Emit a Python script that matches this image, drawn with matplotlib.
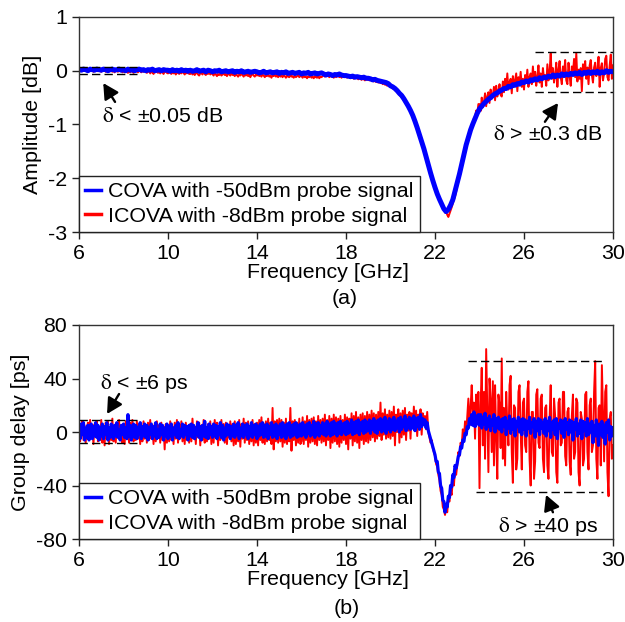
import numpy as np
import matplotlib
matplotlib.use('Agg')
import matplotlib.pyplot as plt
from matplotlib.lines import Line2D

plt.rcParams['font.family'] = ['Liberation Sans', 'DejaVu Sans']
plt.rcParams['font.size'] = 15.4
plt.rcParams['mathtext.fontset'] = 'stix'
plt.rcParams['axes.unicode_minus'] = False

# frequency grids [GHz]
freq_c = np.round(6 + 0.1 * np.arange(241), 2)    # 0.1 GHz steps
freq_f = np.round(6 + 0.05 * np.arange(481), 2)   # 0.05 GHz steps

# amplitude [dB], COVA (-50 dBm probe), 0.1 GHz steps
amp_cova = [
    0.03, 0.01, 0.03, 0.02, 0.00, 0.03, 0.02, 0.01, 0.03, 0.02,
    0.01, 0.03, 0.02, 0.00, 0.02, 0.03, 0.01, 0.02, 0.03, 0.01,
    0.02, 0.00, 0.03, 0.01, 0.02, 0.00, 0.02, 0.03, 0.01, 0.02,
    0.00, 0.02, 0.01, 0.03, 0.00, 0.01, 0.02, 0.00, 0.02, 0.01,
    0.01, -0.01, 0.02, 0.00, 0.01, -0.01, 0.02, 0.00, 0.01, -0.01,
    0.01, -0.01, 0.00, 0.02, -0.01, 0.00, 0.01, -0.02, 0.01, 0.00,
    -0.02, 0.00, -0.01, 0.01, -0.02, -0.01, 0.00, -0.02, -0.01, 0.00,
    -0.03, -0.01, -0.02, 0.00, -0.03, -0.02, -0.01, -0.03, -0.02, -0.01,
    -0.02, -0.04, -0.03, -0.01, -0.04, -0.03, -0.02, -0.04, -0.03, -0.02,
    -0.05, -0.03, -0.04, -0.02, -0.05, -0.04, -0.03, -0.05, -0.04, -0.03,
    -0.06, -0.04, -0.05, -0.03, -0.06, -0.05, -0.04, -0.06, -0.05, -0.04,
    -0.06, -0.08, -0.06, -0.07, -0.09, -0.07, -0.08, -0.06, -0.08, -0.09,
    -0.09, -0.10, -0.11, -0.10, -0.12, -0.11, -0.12, -0.13, -0.12, -0.14,
    -0.14, -0.15, -0.17, -0.16, -0.18, -0.19, -0.20, -0.21, -0.22, -0.24,
    -0.28, -0.30, -0.33, -0.37, -0.42, -0.46, -0.52, -0.59, -0.66, -0.74,
    -0.83, -0.94, -1.06, -1.19, -1.32, -1.45, -1.60, -1.75, -1.90, -2.04,
    -2.17, -2.29, -2.39, -2.48, -2.57, -2.62, -2.58, -2.50, -2.40, -2.24,
    -2.08, -1.92, -1.74, -1.56, -1.38, -1.24, -1.10, -0.99, -0.89, -0.79,
    -0.71, -0.66, -0.61, -0.57, -0.53, -0.50, -0.46, -0.43, -0.41, -0.38,
    -0.36, -0.33, -0.33, -0.29, -0.30, -0.26, -0.27, -0.24, -0.25, -0.21,
    -0.22, -0.19, -0.21, -0.17, -0.18, -0.15, -0.17, -0.13, -0.15, -0.12,
    -0.13, -0.10, -0.12, -0.08, -0.11, -0.08, -0.10, -0.06, -0.09, -0.06,
    -0.08, -0.05, -0.07, -0.04, -0.06, -0.03, -0.07, -0.03, -0.05, -0.02,
    -0.05, -0.02, -0.04, -0.01, -0.05, -0.02, -0.04, 0.00, -0.03, -0.01,
    -0.02,
]

# amplitude [dB], ICOVA (-8 dBm probe), 0.05 GHz steps
amp_icova = [
    0.05, 0.01, 0.03, -0.01, 0.04, 0.00, 0.02, 0.05, -0.01, 0.03, 0.00, 0.04, 0.01, -0.02, 0.03, 0.00, 0.04, -0.01, 0.02, 0.01,
    -0.02, 0.03, 0.00, 0.02, -0.02, 0.01, 0.03, -0.01, 0.02, 0.00, -0.02, 0.01, -0.03, 0.02, 0.00, -0.02, 0.01, -0.01, 0.02, -0.03,
    0.00, -0.03, 0.01, -0.02, -0.04, 0.00, -0.03, 0.01, -0.02, -0.04, 0.01, -0.02, 0.00, -0.03, 0.01, -0.01, -0.03, 0.00, -0.02, 0.01,
    -0.01, -0.04, -0.02, 0.00, -0.05, -0.02, -0.03, -0.06, -0.01, -0.03, 0.00, -0.04, -0.02, -0.05, -0.01, -0.03, -0.06, -0.02, 0.00, -0.04,
    -0.05, -0.02, -0.04, -0.06, -0.02, -0.05, -0.03, -0.07, -0.04, -0.02, -0.06, -0.03, -0.05, -0.01, -0.04, -0.07, -0.03, -0.05, -0.02, -0.06,
    -0.06, -0.03, -0.07, -0.04, -0.08, -0.05, -0.03, -0.07, -0.09, -0.05, -0.04, -0.07, -0.02, -0.06, -0.08, -0.04, -0.06, -0.03, -0.07, -0.05,
    -0.06, -0.09, -0.04, -0.07, -0.10, -0.06, -0.08, -0.05, -0.09, -0.07, -0.04, -0.08, -0.06, -0.10, -0.05, -0.07, -0.09, -0.04, -0.08, -0.06,
    -0.10, -0.06, -0.08, -0.11, -0.07, -0.09, -0.05, -0.08, -0.11, -0.07, -0.09, -0.06, -0.10, -0.07, -0.12, -0.08, -0.06, -0.09, -0.11, -0.07,
    -0.09, -0.06, -0.10, -0.08, -0.11, -0.07, -0.09, -0.12, -0.08, -0.10, -0.07, -0.11, -0.09, -0.13, -0.08, -0.10, -0.07, -0.11, -0.09, -0.12,
    -0.07, -0.11, -0.09, -0.12, -0.08, -0.10, -0.13, -0.09, -0.11, -0.12, -0.08, -0.11, -0.10, -0.13, -0.09, -0.12, -0.10, -0.08, -0.12, -0.10,
    -0.10, -0.13, -0.09, -0.12, -0.11, -0.14, -0.10, -0.12, -0.09, -0.13, -0.11, -0.14, -0.10, -0.12, -0.13, -0.10, -0.14, -0.11, -0.12, -0.10,
    -0.08, -0.11, -0.07, -0.10, -0.09, -0.12, -0.08, -0.11, -0.10, -0.13, -0.09, -0.12, -0.10, -0.08, -0.12, -0.10, -0.13, -0.09, -0.11, -0.12,
    -0.10, -0.13, -0.11, -0.12, -0.14, -0.11, -0.13, -0.15, -0.12, -0.14, -0.13, -0.16, -0.14, -0.15, -0.17, -0.14, -0.16, -0.18, -0.15, -0.17,
    -0.16, -0.18, -0.16, -0.19, -0.17, -0.20, -0.18, -0.21, -0.20, -0.22, -0.21, -0.23, -0.22, -0.25, -0.23, -0.26, -0.25, -0.28, -0.26, -0.29,
    -0.30, -0.31, -0.33, -0.33, -0.36, -0.38, -0.40, -0.42, -0.45, -0.47, -0.49, -0.52, -0.55, -0.58, -0.62, -0.65, -0.69, -0.73, -0.77, -0.81,
    -0.85, -0.91, -0.96, -1.02, -1.08, -1.15, -1.21, -1.27, -1.34, -1.40, -1.47, -1.54, -1.62, -1.69, -1.77, -1.84, -1.92, -1.99, -2.06, -2.12,
    -2.20, -2.26, -2.31, -2.37, -2.42, -2.45, -2.51, -2.55, -2.58, -2.64, -2.62, -2.68, -2.72, -2.66, -2.60, -2.54, -2.47, -2.40, -2.34, -2.25,
    -2.14, -2.06, -1.98, -1.88, -1.80, -1.70, -1.62, -1.52, -1.44, -1.35, -1.27, -1.18, -1.12, -1.02, -0.98, -0.88, -0.86, -0.74, -0.80, -0.62,
    -0.62, -0.75, -0.50, -0.68, -0.58, -0.42, -0.66, -0.48, -0.40, -0.60, -0.35, -0.52, -0.45, -0.30, -0.55, -0.28, -0.48, -0.38, -0.25, -0.45,
    -0.48, -0.20, -0.40, -0.15, -0.32, -0.05, -0.35, -0.22, -0.15, -0.42, -0.10, -0.30, -0.18, -0.05, -0.38, -0.12, -0.25, -0.02, -0.30, -0.15,
    -0.35, -0.08, -0.22, 0.02, -0.30, -0.12, -0.05, -0.25, 0.08, -0.20, -0.02, -0.28, -0.10, 0.10, -0.22, -0.05, -0.30, 0.05, -0.15, -0.08,
    -0.28, 0.12, -0.18, -0.02, 0.32, -0.15, 0.05, -0.22, -0.08, 0.15, -0.30, 0.02, 0.18, -0.12, -0.25, 0.08, -0.05, 0.20, -0.18, -0.25,
    0.15, -0.10, -0.28, 0.08, -0.05, 0.22, -0.12, 0.33, -0.20, 0.02, -0.15, 0.05, -0.38, 0.12, -0.02, 0.18, -0.15, 0.06, -0.25, 0.10,
    0.20, -0.08, -0.22, 0.06, 0.15, -0.10, -0.02, 0.26, -0.30, 0.05, 0.14, -0.18, -0.05, 0.22, 0.28, -0.12, -0.18, 0.10, 0.30, -0.15,
    0.10,
]

# group delay [ps], COVA, 0.05 GHz steps
gd_cova = [
    4, -5, 6, -2, 7, -6, 3, -4, 5, -6, 2, 6, -5, 4, -3, 7, -4, 5, -6, 3,
    -3, 6, -5, 4, -2, 7, -6, 3, -4, 6, 1, -5, 5, -3, 7, -4, 2, -6, 5, -2,
    6, -4, 3, -5, 13, -3, 5, -6, 2, 6, -4, 5, -5, 3, -2, 7, -5, 4, -3, 6,
    -4, 5, -6, 3, -2, 6, -5, 4, -3, 7, -5, 2, -4, 6, -2, 5, -6, 3, -3, 6,
    -5, 4, -3, 6, -6, 3, -2, 5, -4, 7, -5, 2, -3, 6, -4, 5, -2, 4, -6, 5,
    -3, 6, -4, 5, -5, 3, -2, 7, -4, 4, -6, 5, -3, 8, -4, 3, -5, 6, -2, 4,
    -4, 6, -3, 5, -5, 4, -2, 7, -4, 5, -6, 3, -3, 6, -2, 5, -5, 4, -3, 6,
    -4, 5, -2, 7, -5, 3, -3, 6, -4, 5, -2, 6, -5, 4, -3, 7, -4, 5, -2, 6,
    -5, 4, -3, 6, -2, 7, -4, 5, -3, 6, -5, 4, -2, 7, -4, 5, -3, 6, -5, 4,
    -2, 6, -4, 7, -3, 5, -5, 6, -2, 7, -4, 5, -3, 6, -2, 7, -4, 5, -3, 6,
    -3, 7, -2, 5, -4, 6, -1, 7, -3, 5, -2, 8, -4, 6, -2, 7, -3, 5, -1, 7,
    -2, 6, -3, 8, -1, 6, -3, 7, -2, 8, -1, 6, -3, 7, -1, 8, -2, 6, 0, 7,
    -2, 8, -1, 6, 0, 9, -2, 7, -1, 8, 0, 9, -2, 7, 1, 8, -1, 9, 0, 7,
    1, 9, -1, 8, 2, 10, 0, 8, -1, 9, 2, 10, 0, 9, 1, 11, -1, 8, 2, 10,
    0, 9, 2, 11, 1, 8, 3, 10, 0, 11, 2, 9, 4, 12, 1, 9, 3, 11, 2, 10,
    3, 12, 1, 10, 4, 11, 2, 13, 4, 10, 6, 9, 3, 7, 1, -2, -5, -8, -11, -14,
    -17, -22, -22, -30, -31, -40, -42, -51, -52, -60, -54, -56, -48, -49, -40, -41, -32, -34, -25, -27,
    -23, -18, -17, -11, -12, -6, -7, -1, -2, 4, 3, 10, 6, 13, 5, 15, 4, 12, 6, 13,
    5, 13, 3, 11, 6, 14, 2, 10, 4, 12, 1, 9, 5, 13, 0, 10, 3, 11, 2, 9,
    0, 10, 4, 11, -2, 8, 3, 12, -1, 9, 2, 10, -3, 8, 4, 11, 0, 9, -2, 10,
    2, 9, -3, 8, 3, 11, -1, 7, 4, 10, -4, 8, 1, 10, -2, 9, 3, 7, -1, 10,
    -3, 8, 1, 11, -4, 7, 2, 9, -2, 10, -5, 6, 3, 9, -1, 8, -4, 10, 2, 7,
    -2, 9, 0, 8, -6, 7, 2, 10, -3, 6, -1, 9, -5, 8, 1, 7, -3, 10, -2, 6,
    0, 8, -8, 5, -3, 9, 1, -10, 6, -2, 8, -4, 5, -9, 7, 0, 9, -6, 4, -3,
    3,
]

# group delay [ps], ICOVA, 0.05 GHz steps
gd_icova = [
    7, -7, 3, 8, -6, 5, -8, 2, 7, -5, 9, -4, 4, -9, 6, -3, 8, -7, 3, -6,
    9, -8, 4, -10, 7, -5, 8, -9, 3, -6, 10, -7, 5, -8, 6, -4, 9, -6, 2, -8,
    6, -9, 8, -5, 4, -8, 7, -4, 9, -7, 3, -6, 8, -5, 6, -9, 4, -7, 8, -5,
    5, -8, 7, -6, 9, -5, 4, -9, 6, -7, 8, -4, 5, -8, 7, -6, 4, -13, 6, -8,
    5, -7, 8, -6, 4, -9, 7, -5, 9, -8, 6, -4, 8, -7, 5, -9, 7, -6, 4, -8,
    6, -7, 10, -5, 4, -9, 8, -4, 7, -10, 5, -6, 9, -8, 4, -7, 6, -5, 8, -9,
    5, -8, 9, -4, 7, -10, 4, -6, 9, -5, 6, -8, 7, -9, 5, -4, 8, -7, 6, -10,
    8, -9, 5, -7, 9, -11, 6, -5, 10, -8, 7, -6, 8, -9, 5, -7, 9, -10, 6, -8,
    7, -10, 9, -6, 11, -8, 6, -9, 8, -7, 10, -6, 7, -9, 18, -13, 8, -7, 9, -8,
    10, -7, 9, -11, 7, -8, 10, -9, 6, -7, 18, -14, 8, -6, 9, -10, 7, -8, 10, -9,
    -7, 11, -9, 8, -6, 12, -11, 9, -8, 10, -7, 11, -9, 8, -10, 12, -6, 9, -8, 10,
    -7, 13, -10, 9, -6, 12, -12, 10, -8, 13, -7, 11, -9, 10, -11, 12, -8, 9, -6, 13,
    -9, 11, -13, 10, -5, 14, -10, 12, -7, 15, -8, 11, -12, 13, -6, 14, -9, 12, -7, 15,
    -8, 13, -6, 16, -4, 14, -7, 13, -5, 15, -3, 22, -6, 14, -2, 17, -5, 13, -4, 16,
    -5, 15, -3, 19, -10, 13, 0, 17, -8, 14, -4, 16, -2, 18, -6, 13, 1, 15, -5, 14,
    3, 19, 1, 16, -3, 13, 6, 17, -2, 14, 8, 12, 2, 15, 0, -4, -8, -6, -12, -15,
    -18, -24, -26, -32, -36, -44, -47, -56, -58, -62, -57, -60, -50, -52, -44, -47, -36, -40, -28, -32,
    -25, -15, -18, -8, -10, 2, -5, 8, -2, 12, 25, 5, 18, 35, 10, 22, -5, 28, 12, 30,
    -42, 20, 48, -10, 30, -20, 62, 15, -30, 40, 25, -15, 38, -25, 35, -5, -35, 28, 20, -12,
    55, -20, 18, -25, 30, 5, -10, 35, 42, -15, -38, 20, 18, -28, -20, 30, 35, 0, -28, 22,
    25, -10, -15, 30, 38, -20, -40, 15, 15, -35, -22, 28, 32, -8, -12, 25, 28, -20, -30, 18,
    20, -25, -35, 10, 35, -15, -18, 25, 12, -30, -38, 22, 25, -10, -8, 30, 30, -18, -25, 15,
    18, -22, -32, 12, 28, -20, -15, 25, 22, -30, -40, 15, 10, -25, -20, 28, 30, -15, -28, 20,
    25, -15, -10, 30, 53, -20, -35, 18, 20, -25, 50, 15, -22, 30, 35, -30, -48, 10, 15, -20,
    -10,
]

xticks = [6, 10, 14, 18, 22, 26, 30]
amp_ticks = [-3, -2, -1, 0, 1]
gd_ticks = [-80, -40, 0, 40, 80]
labels = ['COVA with -50dBm probe signal', 'ICOVA with -8dBm probe signal']

fig = plt.figure(figsize=(6.25, 6.22), dpi=100)
ax1 = fig.add_axes([0.1264, 0.627, 0.8544, 0.3457])
ax2 = fig.add_axes([0.1264, 0.1334, 0.8544, 0.3441])

dash = dict(color='k', lw=1, dashes=(6, 3))
arrow = dict(arrowstyle='-|>,head_length=0.6,head_width=0.32', color='k', lw=1.7,
             shrinkA=0, shrinkB=0)


def style(ax, yticks, ylim, ylabel, ylab_x):
    ax.set_xlim(6, 30)
    ax.set_ylim(*ylim)
    ax.set_xticks(xticks)
    ax.set_yticks(yticks)
    ax.tick_params(direction='out', length=5, width=1, colors='#222222', labelcolor='k')
    for s in ax.spines.values():
        s.set_color('#333333')
        s.set_linewidth(1)
    ax.set_xlabel('Frequency [GHz]')
    ax.xaxis.set_label_coords(0.466, -0.145)
    ax.set_ylabel(ylabel)
    ax.yaxis.set_label_coords(ylab_x, 0.5)
    h = [Line2D([], [], color='#0000ff', lw=2.5), Line2D([], [], color='#ff0000', lw=2.5)]
    leg = ax.legend(h, labels, loc='lower left', borderaxespad=0, fancybox=False,
                    edgecolor='#222222', framealpha=1, handlelength=0.75,
                    handletextpad=0.3, borderpad=0.3, labelspacing=0.25)
    leg.get_frame().set_linewidth(1)


# (a) amplitude
ax1.plot(freq_f, amp_icova, color='#ff0000', lw=1.4)
ax1.plot(freq_c, amp_cova, color='#0000ff', lw=3.6)
ax1.plot([6, 8.6], [0.075, 0.075], **dash)
ax1.plot([6, 8.6], [-0.07, -0.07], **dash)
ax1.plot([26.5, 30], [0.35, 0.35], **dash)
ax1.plot([26.5, 30], [-0.4, -0.4], **dash)
ax1.annotate('', xy=(7.09, -0.23), xytext=(7.62, -0.58), arrowprops=arrow)
ax1.text(9.78, -0.86, r'$\mathrm{\delta}$ < ±0.05 dB', ha='center', va='center')
ax1.annotate('', xy=(27.53, -0.6), xytext=(26.94, -0.95), arrowprops=arrow)
ax1.text(27.08, -1.18, r'$\mathrm{\delta}$ > ±0.3 dB', ha='center', va='center')
style(ax1, amp_ticks, (-3, 1), 'Amplitude [dB]', -0.069)

# (b) group delay
ax2.plot(freq_f, gd_icova, color='#ff0000', lw=1.4)
ax2.plot(freq_f, gd_cova, color='#0000ff', lw=2.3)
ax2.plot([6, 8.6], [9, 9], **dash)
ax2.plot([6, 8.6], [-8.5, -8.5], **dash)
ax2.plot([23.5, 29.55], [53, 53], **dash)
ax2.plot([23.85, 29.55], [-44.6, -44.6], **dash)
ax2.annotate('', xy=(7.26, 13.5), xytext=(7.8, 28.4), arrowprops=arrow)
ax2.text(8.94, 36.6, r'$\mathrm{\delta}$ < ±6 ps', ha='center', va='center')
ax2.annotate('', xy=(26.99, -47), xytext=(27.3, -60), arrowprops=arrow)
ax2.text(27.08, -71, r'$\mathrm{\delta}$ > ±40 ps', ha='center', va='center')
style(ax2, gd_ticks, (-80, 80), 'Group delay [ps]', -0.092)

fig.text(345 / 625, 1 - 299 / 622, '(a)', ha='center', va='center')
fig.text(347 / 625, 1 - 609 / 622, '(b)', ha='center', va='center')

fig.savefig('out.png', dpi=100)
